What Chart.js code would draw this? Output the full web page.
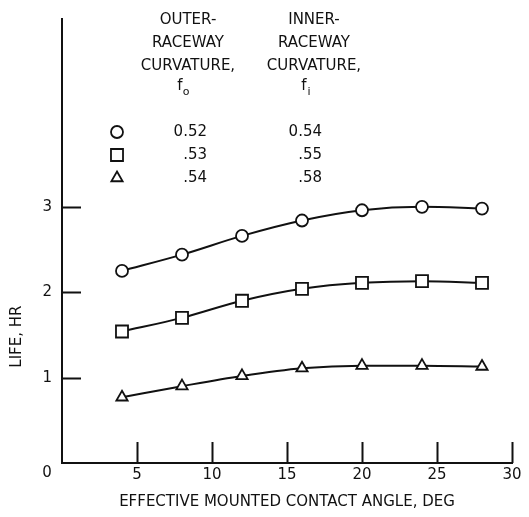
<!DOCTYPE html>
<html>
<head>
<meta charset="utf-8">
<script src="https://cdn.jsdelivr.net/npm/chart.js"></script>
<style>
  html, body { margin: 0; padding: 0; background: #ffffff; }
  #wrap { width: 529px; height: 517px; }
</style>
</head>
<body>
<div id="wrap"><canvas id="c" width="529" height="517"></canvas></div>
<script>
// Effective mounted contact angle, deg
const angles = [4, 8, 12, 16, 20, 24, 28];
// Life, hr, for each raceway-curvature combination
const lifeCircle   = [2.25, 2.44, 2.66, 2.84, 2.96, 3.00, 2.98];
const lifeSquare   = [1.54, 1.70, 1.90, 2.04, 2.11, 2.13, 2.11];
const lifeTriangle = [0.77, 0.90, 1.02, 1.11, 1.14, 1.14, 1.13];

const xTickValues = [5, 10, 15, 20, 25, 30];
const yTickValues = [1, 2, 3];

// Legend table
const outerHeader = ['OUTER-', 'RACEWAY', 'CURVATURE,'];
const innerHeader = ['INNER-', 'RACEWAY', 'CURVATURE,'];
const outerCurvature = ['0.52', '.53', '.54'];
const innerCurvature = ['0.54', '.55', '.58'];

const xTitle = 'EFFECTIVE MOUNTED CONTACT ANGLE, DEG';
const yTitle = 'LIFE, HR';

const FONT = '"DejaVu Sans", sans-serif';
const INK = '#111111';

function series(values, style, radius) {
  return {
    data: angles.map((a, i) => ({ x: a, y: values[i] })),
    borderColor: INK,
    borderWidth: 2,
    pointStyle: style,
    pointRadius: radius,
    pointHoverRadius: radius,
    pointBorderWidth: 1.8,
    pointBackgroundColor: '#ffffff',
    pointBorderColor: INK,
    cubicInterpolationMode: 'monotone',
    fill: false
  };
}

// Inward tick marks, origin label, y title and the curvature table
const decorations = {
  id: 'decorations',
  afterDatasetsDraw(chart) {
    const { ctx, scales: { x, y }, chartArea } = chart;
    ctx.save();
    ctx.strokeStyle = INK;
    ctx.lineWidth = 2;
    ctx.beginPath();
    yTickValues.forEach(v => {
      const py = Math.round(y.getPixelForValue(v)) + 0.5;
      ctx.moveTo(chartArea.left, py);
      ctx.lineTo(chartArea.left + 19, py);
    });
    xTickValues.forEach(v => {
      const px = Math.round(x.getPixelForValue(v)) + 0.5;
      ctx.moveTo(px, chartArea.bottom);
      ctx.lineTo(px, chartArea.bottom - 21);
    });
    ctx.stroke();

    ctx.fillStyle = INK;
    ctx.font = '15px ' + FONT;
    ctx.textAlign = 'center';
    ctx.textBaseline = 'middle';
    // shared origin label
    ctx.fillText('0', x.getPixelForValue(0) - 15, chartArea.bottom + 10);

    // y axis title
    ctx.save();
    ctx.translate(17, y.getPixelForValue(1.48));
    ctx.rotate(-Math.PI / 2);
    ctx.fillText(yTitle, 0, 0);
    ctx.restore();

    // table headers
    const headerRows = [20, 43, 66];
    outerHeader.forEach((t, i) => ctx.fillText(t, 188, headerRows[i]));
    innerHeader.forEach((t, i) => ctx.fillText(t, 314, headerRows[i]));
    // f with subscripts
    ctx.fillText('f', 180, 86);
    ctx.fillText('f', 304, 86);
    ctx.font = '11px ' + FONT;
    ctx.fillText('o', 186, 92);
    ctx.fillText('i', 309, 92);

    // table rows
    const rowY = [132, 155, 178];
    ctx.font = '15px ' + FONT;
    ctx.textAlign = 'right';
    outerCurvature.forEach((t, i) => ctx.fillText(t, 207, rowY[i]));
    innerCurvature.forEach((t, i) => ctx.fillText(t, 322, rowY[i]));

    chart.data.datasets.forEach((ds, i) => {
      ctx.fillStyle = '#ffffff';
      ctx.strokeStyle = INK;
      ctx.lineWidth = 1.8;
      Chart.helpers.drawPoint(ctx, {
        pointStyle: ds.pointStyle,
        radius: ds.pointRadius,
        borderWidth: 1.8,
        rotation: 0
      }, 117, rowY[i]);
    });
    ctx.restore();
  }
};

new Chart(document.getElementById('c'), {
  type: 'line',
  data: {
    datasets: [
      series(lifeCircle, 'circle', 6),
      series(lifeSquare, 'rect', 8.5),
      series(lifeTriangle, 'triangle', 6.5)
    ]
  },
  options: {
    responsive: false,
    animation: false,
    events: [],
    layout: { padding: { top: 13, right: 17, left: 0, bottom: 0 } },
    plugins: { legend: { display: false }, tooltip: { enabled: false } },
    scales: {
      x: {
        type: 'linear',
        min: 0,
        max: 30,
        afterFit(scale) { scale.height = 54; },
        afterBuildTicks(scale) { scale.ticks = xTickValues.map(v => ({ value: v })); },
        grid: { display: true, drawOnChartArea: false, drawTicks: false },
        border: { display: true, color: INK, width: 2 },
        ticks: {
          padding: 3,
          color: INK,
          font: { family: FONT, size: 15 },
          maxRotation: 0,
          autoSkip: false
        },
        title: {
          display: true,
          text: xTitle,
          color: INK,
          font: { family: FONT, size: 15 },
          padding: { top: 0, bottom: 6 }
        }
      },
      y: {
        type: 'linear',
        min: 0,
        max: 5.2,
        afterFit(scale) { scale.width = 62; },
        afterBuildTicks(scale) { scale.ticks = yTickValues.map(v => ({ value: v })); },
        grid: { display: true, drawOnChartArea: false, drawTicks: false },
        border: { display: true, color: INK, width: 2 },
        ticks: {
          padding: 10,
          color: INK,
          font: { family: FONT, size: 15 }
        }
      }
    }
  },
  plugins: [decorations]
});
</script>
</body>
</html>
